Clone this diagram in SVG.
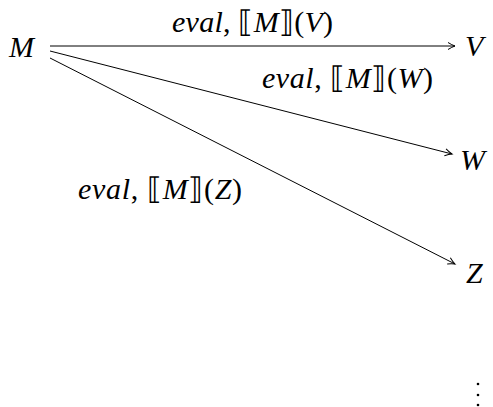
<svg xmlns="http://www.w3.org/2000/svg" width="493" height="407" viewBox="0 0 493 407">
<defs>
<marker id="arr" markerWidth="10" markerHeight="10" refX="8" refY="5" orient="auto" markerUnits="userSpaceOnUse">
<path d="M1,1.5 Q5,4 8,5 Q5,6 1,8.5" fill="none" stroke="#000" stroke-width="1"/>
</marker>
<style>
text{font-family:"Liberation Serif","DejaVu Serif",serif;font-size:30px;fill:#000}
.it{font-style:italic}
.e{stroke:#000;stroke-width:1;fill:none;marker-end:url(#arr)}
</style>
</defs>
<rect width="493" height="407" fill="#fff"/>
<g id="edges">
<line class="e" x1="50" y1="46" x2="455" y2="46"/>
<line class="e" x1="50" y1="51" x2="452" y2="154"/>
<line class="e" x1="50" y1="58" x2="455" y2="264"/>
<text x="172" y="32" textLength="161" lengthAdjust="spacing"><tspan class="it">eval</tspan>, ⟦<tspan class="it">M</tspan>⟧(<tspan class="it">V</tspan>)</text>
<text x="262" y="88" textLength="171" lengthAdjust="spacing"><tspan class="it">eval</tspan>, ⟦<tspan class="it">M</tspan>⟧(<tspan class="it">W</tspan>)</text>
<text x="78" y="199" textLength="164" lengthAdjust="spacing"><tspan class="it">eval</tspan>, ⟦<tspan class="it">M</tspan>⟧(<tspan class="it">Z</tspan>)</text>
</g>
<g id="M"><text class="it" x="9" y="57">M</text></g>
<g id="V"><text class="it" x="465" y="56">V</text></g>
<g id="W"><text class="it" x="460" y="170">W</text></g>
<g id="Z"><text class="it" x="466" y="283">Z</text></g>
<g id="dots" fill="#000"><circle cx="478" cy="384" r="1.3"/><circle cx="478" cy="395" r="1.3"/><circle cx="478" cy="405" r="1.3"/></g>
</svg>
